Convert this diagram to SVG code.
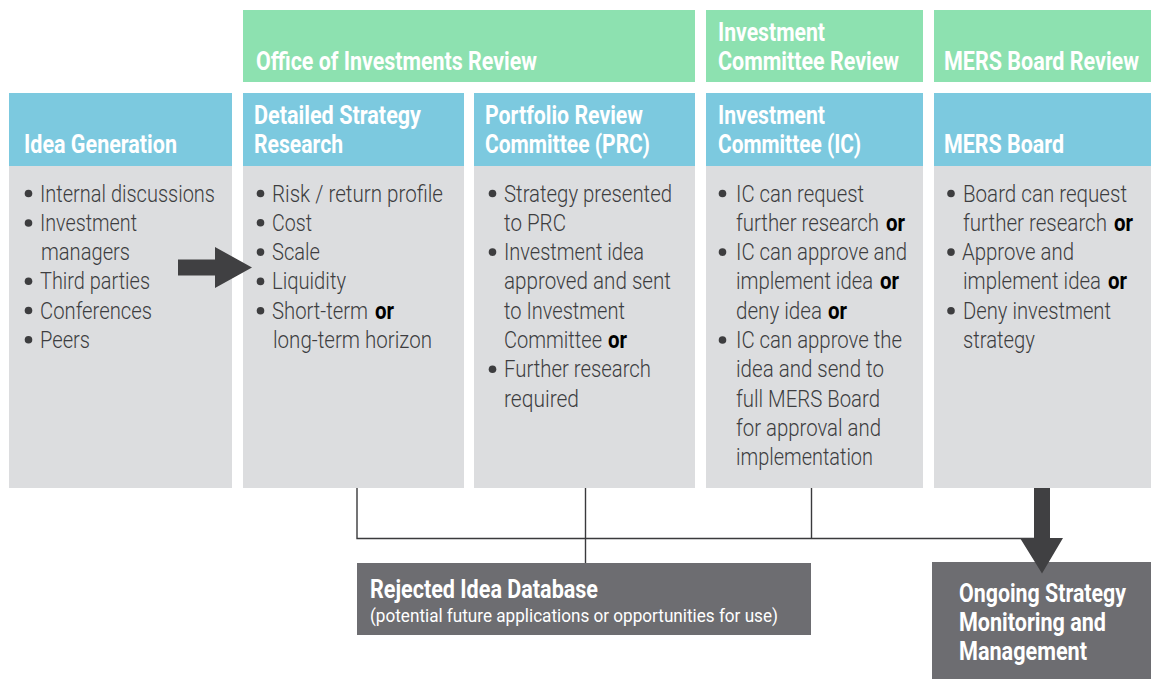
<svg xmlns="http://www.w3.org/2000/svg" width="1151" height="679" viewBox="0 0 1151 679">
  <style>
    .stage { fill: #8de1b0; }
    .head { fill: #7cc9df; }
    .body { fill: #dcdddf; }
    .dark { fill: #6d6d71; }
    .arrow { fill: #404042; }
    .hd { font-family: Roboto, "Liberation Sans", sans-serif; font-weight: bold; font-size: 25.5px; fill: #ffffff; }
    .bd { font-family: Roboto, "Liberation Sans", sans-serif; font-weight: 300; font-size: 23px; fill: #3d3d3f; }
    .or { font-family: Roboto, "Liberation Sans", sans-serif; font-weight: bold; font-size: 23px; fill: #000000; }
    .dot { fill: #3d3d3f; }
    .sub { font-family: Roboto, "Liberation Sans", sans-serif; font-weight: normal; font-size: 18.5px; fill: #ffffff; }
    .conn { stroke: #3a3a3c; stroke-width: 1.4; fill: none; }
  </style>
  <!-- all labels use a condensed face: glyphs are narrowed to 80% with scale(0.8 1) -->

  <!-- review stage banners -->
  <g id="stage-office">
    <rect class="stage" x="243" y="10" width="452" height="72"/>
    <text class="hd" transform="translate(256 70) scale(0.8 1)" textLength="351.25" lengthAdjust="spacingAndGlyphs">Office of Investments Review</text>
  </g>
  <g id="stage-ic">
    <rect class="stage" x="706" y="10" width="217" height="72"/>
    <text class="hd" transform="translate(718 41) scale(0.8 1)" textLength="133.75" lengthAdjust="spacingAndGlyphs">Investment</text>
    <text class="hd" transform="translate(718 70) scale(0.8 1)" textLength="226.25" lengthAdjust="spacingAndGlyphs">Committee Review</text>
  </g>
  <g id="stage-board">
    <rect class="stage" x="934" y="10" width="217" height="72"/>
    <text class="hd" transform="translate(944 70) scale(0.8 1)" textLength="243.75" lengthAdjust="spacingAndGlyphs">MERS Board Review</text>
  </g>

  <!-- column 1 -->
  <g id="idea-generation">
    <rect class="head" x="9" y="93" width="223" height="73"/>
    <rect class="body" x="9" y="166" width="223" height="322"/>
    <text class="hd" transform="translate(24 153) scale(0.8 1)" textLength="191.25" lengthAdjust="spacingAndGlyphs">Idea Generation</text>
    <circle class="dot" cx="28.5" cy="193.5" r="3.8"/>
    <circle class="dot" cx="28.5" cy="223" r="3.8"/>
    <circle class="dot" cx="28.5" cy="281.3" r="3.8"/>
    <circle class="dot" cx="28.5" cy="310.5" r="3.8"/>
    <circle class="dot" cx="28.5" cy="339.8" r="3.8"/>
    <text class="bd" transform="translate(40 201.5) scale(0.8 1)" textLength="218.75" lengthAdjust="spacingAndGlyphs">Internal discussions</text>
    <text class="bd" transform="translate(40 230.8) scale(0.8 1)" textLength="121.25" lengthAdjust="spacingAndGlyphs">Investment</text>
    <text class="bd" transform="translate(41 260.1) scale(0.8 1)" textLength="111.25" lengthAdjust="spacingAndGlyphs">managers</text>
    <text class="bd" transform="translate(40 289.4) scale(0.8 1)" textLength="137.5" lengthAdjust="spacingAndGlyphs">Third parties</text>
    <text class="bd" transform="translate(40 318.7) scale(0.8 1)" textLength="140" lengthAdjust="spacingAndGlyphs">Conferences</text>
    <text class="bd" transform="translate(40 348) scale(0.8 1)" textLength="62.5" lengthAdjust="spacingAndGlyphs">Peers</text>
  </g>

  <!-- column 2 -->
  <g id="strategy-research">
    <rect class="head" x="243" y="93" width="221" height="73"/>
    <rect class="body" x="243" y="166" width="221" height="322"/>
    <text class="hd" transform="translate(254 124) scale(0.8 1)" textLength="208.75" lengthAdjust="spacingAndGlyphs">Detailed Strategy</text>
    <text class="hd" transform="translate(254 153) scale(0.8 1)" textLength="111.25" lengthAdjust="spacingAndGlyphs">Research</text>
    <circle class="dot" cx="260.5" cy="193.5" r="3.8"/>
    <circle class="dot" cx="260.5" cy="222.8" r="3.8"/>
    <circle class="dot" cx="260.5" cy="252.1" r="3.8"/>
    <circle class="dot" cx="260.5" cy="281.4" r="3.8"/>
    <circle class="dot" cx="260.5" cy="310.7" r="3.8"/>
    <text class="bd" transform="translate(272 201.5) scale(0.8 1)" textLength="213.75" lengthAdjust="spacingAndGlyphs">Risk / return profile</text>
    <text class="bd" transform="translate(272 230.8) scale(0.8 1)" textLength="50" lengthAdjust="spacingAndGlyphs">Cost</text>
    <text class="bd" transform="translate(272 260.1) scale(0.8 1)" textLength="60" lengthAdjust="spacingAndGlyphs">Scale</text>
    <text class="bd" transform="translate(272 289.4) scale(0.8 1)" textLength="92.5" lengthAdjust="spacingAndGlyphs">Liquidity</text>
    <text class="bd" transform="translate(272 318.7) scale(0.8 1)" textLength="120" lengthAdjust="spacingAndGlyphs">Short-term</text>
    <text class="or" transform="translate(375 318.7) scale(0.8 1)" textLength="23.75" lengthAdjust="spacingAndGlyphs">or</text>
    <text class="bd" transform="translate(273 348) scale(0.8 1)" textLength="198.75" lengthAdjust="spacingAndGlyphs">long-term horizon</text>
  </g>

  <!-- column 3 -->
  <g id="portfolio-review">
    <rect class="head" x="474" y="93" width="221" height="73"/>
    <rect class="body" x="474" y="166" width="221" height="322"/>
    <text class="hd" transform="translate(485 124) scale(0.8 1)" textLength="197.5" lengthAdjust="spacingAndGlyphs">Portfolio Review</text>
    <text class="hd" transform="translate(485 153) scale(0.8 1)" textLength="206.25" lengthAdjust="spacingAndGlyphs">Committee (PRC)</text>
    <circle class="dot" cx="492.5" cy="193.5" r="3.8"/>
    <circle class="dot" cx="492.5" cy="252.1" r="3.8"/>
    <circle class="dot" cx="492.5" cy="369.3" r="3.8"/>
    <text class="bd" transform="translate(504 201.5) scale(0.8 1)" textLength="210" lengthAdjust="spacingAndGlyphs">Strategy presented</text>
    <text class="bd" transform="translate(504 230.8) scale(0.8 1)" textLength="77.5" lengthAdjust="spacingAndGlyphs">to PRC</text>
    <text class="bd" transform="translate(504 260.1) scale(0.8 1)" textLength="175" lengthAdjust="spacingAndGlyphs">Investment idea</text>
    <text class="bd" transform="translate(504 289.4) scale(0.8 1)" textLength="208.75" lengthAdjust="spacingAndGlyphs">approved and sent</text>
    <text class="bd" transform="translate(504 318.7) scale(0.8 1)" textLength="151.25" lengthAdjust="spacingAndGlyphs">to Investment</text>
    <text class="bd" transform="translate(504 348) scale(0.8 1)" textLength="122.5" lengthAdjust="spacingAndGlyphs">Committee</text>
    <text class="or" transform="translate(608 348) scale(0.8 1)" textLength="23.75" lengthAdjust="spacingAndGlyphs">or</text>
    <text class="bd" transform="translate(504 377.3) scale(0.8 1)" textLength="183.75" lengthAdjust="spacingAndGlyphs">Further research</text>
    <text class="bd" transform="translate(504 406.6) scale(0.8 1)" textLength="93.75" lengthAdjust="spacingAndGlyphs">required</text>
  </g>

  <!-- column 4 -->
  <g id="investment-committee">
    <rect class="head" x="706" y="93" width="217" height="73"/>
    <rect class="body" x="706" y="166" width="217" height="322"/>
    <text class="hd" transform="translate(718 124) scale(0.8 1)" textLength="133.75" lengthAdjust="spacingAndGlyphs">Investment</text>
    <text class="hd" transform="translate(718 153) scale(0.8 1)" textLength="178.75" lengthAdjust="spacingAndGlyphs">Committee (IC)</text>
    <circle class="dot" cx="722.5" cy="193.5" r="3.8"/>
    <circle class="dot" cx="722.5" cy="252.1" r="3.8"/>
    <circle class="dot" cx="722.5" cy="340" r="3.8"/>
    <text class="bd" transform="translate(736 201.5) scale(0.8 1)" textLength="160" lengthAdjust="spacingAndGlyphs">IC can request</text>
    <text class="bd" transform="translate(736 230.8) scale(0.8 1)" textLength="178.75" lengthAdjust="spacingAndGlyphs">further research</text>
    <text class="or" transform="translate(886 230.8) scale(0.8 1)" textLength="23.75" lengthAdjust="spacingAndGlyphs">or</text>
    <text class="bd" transform="translate(736 260.1) scale(0.8 1)" textLength="213.75" lengthAdjust="spacingAndGlyphs">IC can approve and</text>
    <text class="bd" transform="translate(736 289.4) scale(0.8 1)" textLength="171.25" lengthAdjust="spacingAndGlyphs">implement idea</text>
    <text class="or" transform="translate(880 289.4) scale(0.8 1)" textLength="23.75" lengthAdjust="spacingAndGlyphs">or</text>
    <text class="bd" transform="translate(736 318.7) scale(0.8 1)" textLength="107.5" lengthAdjust="spacingAndGlyphs">deny idea</text>
    <text class="or" transform="translate(828 318.7) scale(0.8 1)" textLength="23.75" lengthAdjust="spacingAndGlyphs">or</text>
    <text class="bd" transform="translate(736 348) scale(0.8 1)" textLength="207.5" lengthAdjust="spacingAndGlyphs">IC can approve the</text>
    <text class="bd" transform="translate(736 377.3) scale(0.8 1)" textLength="185" lengthAdjust="spacingAndGlyphs">idea and send to</text>
    <text class="bd" transform="translate(736 406.6) scale(0.8 1)" textLength="180" lengthAdjust="spacingAndGlyphs">full MERS Board</text>
    <text class="bd" transform="translate(736 435.9) scale(0.8 1)" textLength="181.25" lengthAdjust="spacingAndGlyphs">for approval and</text>
    <text class="bd" transform="translate(736 465.2) scale(0.8 1)" textLength="171.25" lengthAdjust="spacingAndGlyphs">implementation</text>
  </g>

  <!-- column 5 -->
  <g id="mers-board">
    <rect class="head" x="934" y="93" width="217" height="73"/>
    <rect class="body" x="934" y="166" width="217" height="322"/>
    <text class="hd" transform="translate(944 153) scale(0.8 1)" textLength="150" lengthAdjust="spacingAndGlyphs">MERS Board</text>
    <circle class="dot" cx="951" cy="193.5" r="3.8"/>
    <circle class="dot" cx="951" cy="252.1" r="3.8"/>
    <circle class="dot" cx="951" cy="310.7" r="3.8"/>
    <text class="bd" transform="translate(963 201.5) scale(0.8 1)" textLength="205" lengthAdjust="spacingAndGlyphs">Board can request</text>
    <text class="bd" transform="translate(963 230.8) scale(0.8 1)" textLength="180" lengthAdjust="spacingAndGlyphs">further research</text>
    <text class="or" transform="translate(1114 230.8) scale(0.8 1)" textLength="23.75" lengthAdjust="spacingAndGlyphs">or</text>
    <text class="bd" transform="translate(962 260.1) scale(0.8 1)" textLength="140" lengthAdjust="spacingAndGlyphs">Approve and</text>
    <text class="bd" transform="translate(963 289.4) scale(0.8 1)" textLength="172.5" lengthAdjust="spacingAndGlyphs">implement idea</text>
    <text class="or" transform="translate(1108 289.4) scale(0.8 1)" textLength="23.75" lengthAdjust="spacingAndGlyphs">or</text>
    <text class="bd" transform="translate(963 318.7) scale(0.8 1)" textLength="185" lengthAdjust="spacingAndGlyphs">Deny investment</text>
    <text class="bd" transform="translate(963 348) scale(0.8 1)" textLength="90" lengthAdjust="spacingAndGlyphs">strategy</text>
  </g>

  <!-- outcome boxes -->
  <g id="rejected-database">
    <rect class="dark" x="357" y="563" width="454" height="72"/>
    <text class="hd" transform="translate(370 597.5) scale(0.8 1)" font-size="23" textLength="285" lengthAdjust="spacingAndGlyphs">Rejected Idea Database</text>
    <text class="sub" transform="translate(370 621.5) scale(0.8 1)" textLength="510" lengthAdjust="spacingAndGlyphs">(potential future applications or opportunities for use)</text>
  </g>
  <g id="ongoing-monitoring">
    <rect class="dark" x="932" y="562" width="219" height="117"/>
    <text class="hd" transform="translate(959 602) scale(0.8 1)" font-size="23.5" textLength="208.75" lengthAdjust="spacingAndGlyphs">Ongoing Strategy</text>
    <text class="hd" transform="translate(959 631) scale(0.8 1)" font-size="23.5" textLength="183.75" lengthAdjust="spacingAndGlyphs">Monitoring and</text>
    <text class="hd" transform="translate(959 660) scale(0.8 1)" font-size="23.5" textLength="160" lengthAdjust="spacingAndGlyphs">Management</text>
  </g>

  <!-- connectors -->
  <g id="connectors">
    <path class="conn" d="M357 488 V538.5 H1036"/>
    <path class="conn" d="M585.5 488 V563"/>
    <path class="conn" d="M811.5 488 V538.5"/>
    <polygon class="arrow" points="178,259.5 215,259.5 215,247 252,267.5 215,288 215,275.5 178,275.5"/>
    <polygon class="arrow" points="1034,488 1050,488 1050,538 1063,538 1042,573.5 1020,538 1034,538"/>
  </g>
</svg>
